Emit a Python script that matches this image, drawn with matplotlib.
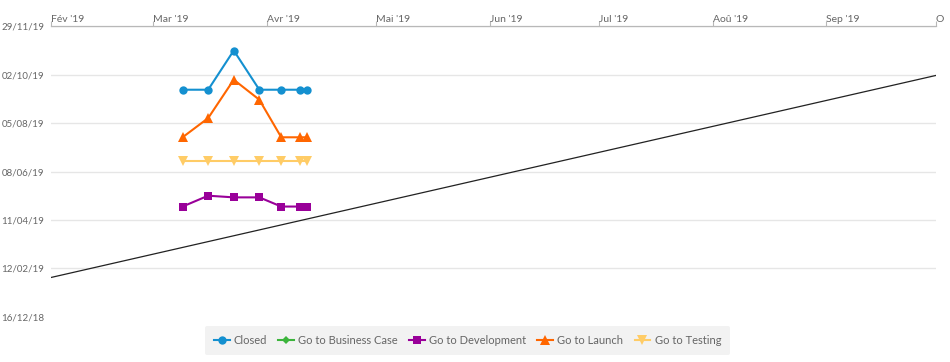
import matplotlib
matplotlib.use("Agg")
import matplotlib.pyplot as plt
import matplotlib.dates as mdates
from datetime import date

plt.rcParams["font.family"] = ["Lato", "DejaVu Sans"]

# snapshot dates (x) and forecast milestone dates (y)
snapshots = [date(2019, 3, 9), date(2019, 3, 16), date(2019, 3, 23), date(2019, 3, 30),
             date(2019, 4, 5), date(2019, 4, 10), date(2019, 4, 12)]

closed = [date(2019, 9, 14), date(2019, 9, 14), date(2019, 10, 31), date(2019, 9, 14),
          date(2019, 9, 14), date(2019, 9, 14), date(2019, 9, 14)]
business_case = []
development = [date(2019, 4, 27), date(2019, 5, 10), date(2019, 5, 8), date(2019, 5, 8),
               date(2019, 4, 27), date(2019, 4, 27), date(2019, 4, 27)]
launch = [date(2019, 7, 19), date(2019, 8, 11), date(2019, 9, 26), date(2019, 9, 2),
          date(2019, 7, 19), date(2019, 7, 19), date(2019, 7, 19)]
testing = [date(2019, 6, 21)] * 7

diagonal = [date(2019, 2, 1), date(2019, 10, 1)]

month_ticks = [date(2019, m, 1) for m in range(2, 11)]
month_labels = ["Fév '19", "Mar '19", "Avr '19", "Mai '19", "Jun '19",
                "Jul '19", "Aoû '19", "Sep '19", "O"]

y_ticks = [date(2018, 12, 16), date(2019, 2, 12), date(2019, 4, 11), date(2019, 6, 8),
           date(2019, 8, 5), date(2019, 10, 2), date(2019, 11, 29)]
y_labels = ["16/12/18", "12/02/19", "11/04/19", "08/06/19", "05/08/19", "02/10/19", "29/11/19"]

series = [
    ("Closed", snapshots, closed, "#1490d0", "o", 6),
    ("Go to Business Case", [], business_case, "#3cb43c", "D", 4),
    ("Go to Development", snapshots, development, "#990099", "s", 6),
    ("Go to Launch", snapshots, launch, "#ff6600", "^", 6.5),
    ("Go to Testing", snapshots, testing, "#ffcc66", "v", 6.5),
]

fig = plt.figure(figsize=(9.5, 3.62), dpi=100)
ax = fig.add_axes([51 / 950, 1 - 316.7 / 362, (935.5 - 51) / 950, (316.7 - 26.3) / 362])

ax.plot(diagonal, diagonal, color="#222222", lw=0.9, zorder=2)

for name, xs, ys, col, mk, ms in series:
    ax.plot(xs, ys, color=col, marker=mk, markersize=ms, lw=1.5, label=name,
            markeredgewidth=0, zorder=3)

ax.set_xlim(mdates.date2num(diagonal[0]), mdates.date2num(diagonal[1]))
ax.set_ylim(mdates.date2num(y_ticks[0]), mdates.date2num(y_ticks[-1]))

ax.xaxis.tick_top()
ax.set_xticks(mdates.date2num(month_ticks))
ax.set_xticklabels(month_labels, ha="left")
ax.tick_params(axis="x", which="both", direction="out", length=3.5, width=0.8,
               color="#b8b8b8", pad=-1.5, labelsize=7.5, labelcolor="#666666")

ax.set_yticks(mdates.date2num(y_ticks))
ax.set_yticklabels(y_labels)
ax.tick_params(axis="y", length=0, pad=5, labelsize=7, labelcolor="#666666")

ax.grid(axis="y", color="#e6e6e6", lw=1)
ax.yaxis.get_gridlines()[0].set_visible(False)
ax.set_axisbelow(True)

for s in ["left", "right", "bottom"]:
    ax.spines[s].set_visible(False)
ax.spines["top"].set_color("#b8b8b8")
ax.spines["top"].set_linewidth(0.9)

leg = fig.legend(loc="center", bbox_to_anchor=(467.5 / 950, 1 - 340.5 / 362), ncol=5,
                 frameon=True, fontsize=8, handlelength=1.4, handletextpad=0.4,
                 columnspacing=1.0, borderpad=0.8, labelcolor="#666666")
frame = leg.get_frame()
frame.set_facecolor("#f2f2f2")
frame.set_edgecolor("none")
frame.set_alpha(1)

fig.savefig("out.png", dpi=100)
